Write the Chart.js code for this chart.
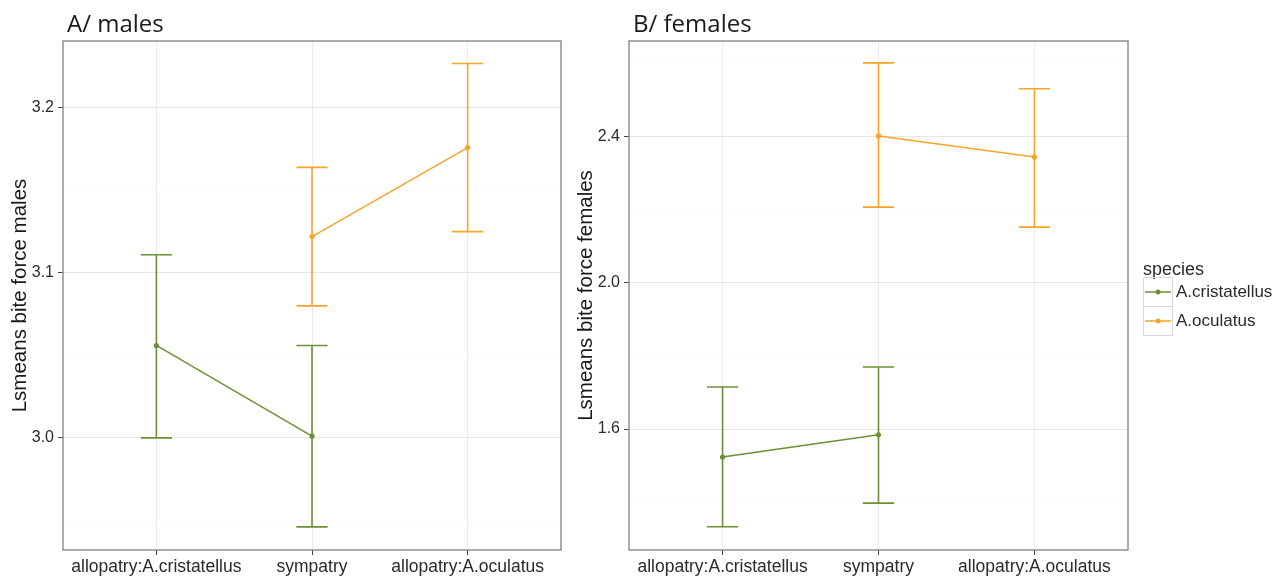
<!DOCTYPE html>
<html><head><meta charset="utf-8">
<script src="https://cdn.jsdelivr.net/npm/chart.js@4.4.1/dist/chart.umd.min.js"></script>
<style>
html,body{margin:0;padding:0;background:#fff;width:1283px;height:577px;overflow:hidden}
canvas{position:absolute;top:0}
#cA{left:0}
#cB{left:566px}
</style></head><body>
<canvas id="cA" width="575" height="577"></canvas>
<canvas id="cB" width="717" height="577"></canvas>
<script>
// ---------- data ----------
const categories = ['allopatry:A.cristatellus', 'sympatry', 'allopatry:A.oculatus'];
const speciesNames = ['A.cristatellus', 'A.oculatus'];
const legendTitle = 'species';

const malesCristatellusMean  = [3.056, 3.001, null];
const malesCristatellusLower = [3.000, 2.946, null];
const malesCristatellusUpper = [3.111, 3.056, null];
const malesOculatusMean      = [null, 3.122, 3.176];
const malesOculatusLower     = [null, 3.080, 3.125];
const malesOculatusUpper     = [null, 3.164, 3.227];

const femalesCristatellusMean  = [1.523, 1.584, null];
const femalesCristatellusLower = [1.332, 1.397, null];
const femalesCristatellusUpper = [1.715, 1.770, null];
const femalesOculatusMean      = [null, 2.403, 2.345];
const femalesOculatusLower     = [null, 2.208, 2.153];
const femalesOculatusUpper     = [null, 2.603, 2.532];

const malesMajorTicks   = [3.0, 3.1, 3.2];
const malesMinorTicks   = [2.95, 3.05, 3.15];
const malesRange        = [2.932, 3.2406];
const femalesMajorTicks = [1.6, 2.0, 2.4];
const femalesMinorTicks = [1.4, 1.8, 2.2, 2.6];
const femalesRange      = [1.2685, 2.663];

// ---------- style ----------
const GREEN = '#6c9035', ORANGE = '#f7a42a';
const FONT = '"Liberation Sans", Arial, sans-serif';
const CAP_HALF = 0.1;
const TEXT = '#2b2b2b';

function pts(arr){ return arr.map((v,i)=> v==null ? null : {x:i, y:v}).filter(p=>p); }
function isIn(list, v){ return list.some(t => Math.abs(t - v) < 1e-6); }

const errorBarPlugin = {
  id: 'errorBars',
  afterDatasetsDraw(chart){
    const {ctx, scales:{x, y}} = chart;
    chart.data.datasets.forEach(ds => {
      ctx.save();
      ctx.strokeStyle = ds.borderColor; ctx.lineWidth = 1.6;
      ds.errLower.forEach((lo, i) => {
        const hi = ds.errUpper[i];
        if (lo == null || hi == null) return;
        const px = x.getPixelForValue(i), pl = x.getPixelForValue(i - CAP_HALF), pr = x.getPixelForValue(i + CAP_HALF);
        const yl = y.getPixelForValue(lo), yh = y.getPixelForValue(hi);
        ctx.beginPath();
        ctx.moveTo(px, yl); ctx.lineTo(px, yh);
        ctx.moveTo(pl, yl); ctx.lineTo(pr, yl);
        ctx.moveTo(pl, yh); ctx.lineTo(pr, yh);
        ctx.stroke();
      });
      ctx.restore();
    });
  }
};

const framePlugin = {
  id: 'frame',
  afterDraw(chart, args, opts){
    const {ctx, chartArea:a} = chart;
    ctx.save();
    ctx.strokeStyle = '#808080'; ctx.lineWidth = 1.3;
    ctx.strokeRect(a.left, a.top, a.right - a.left, a.bottom - a.top);
    ctx.fillStyle = '#1a1a1a';
    ctx.font = '24px "Open Sans", "Noto Sans", sans-serif';
    ctx.textBaseline = 'alphabetic'; ctx.textAlign = 'left';
    ctx.fillText(opts.title, a.left + 4, 32);
    if (opts.legend) {
      const x0 = a.right + 15;
      ctx.font = '18px ' + FONT; ctx.textBaseline = 'middle';
      ctx.fillStyle = TEXT;
      ctx.fillText(legendTitle, x0, 270);
      chart.data.datasets.forEach((ds, i) => {
        const cy = 292 + i * 29;
        ctx.strokeStyle = '#d9d9d9'; ctx.lineWidth = 1;
        ctx.strokeRect(x0 + 0.5, cy - 14.5, 29, 29);
        ctx.strokeStyle = ds.borderColor; ctx.lineWidth = 1.5;
        ctx.beginPath(); ctx.moveTo(x0 + 2, cy); ctx.lineTo(x0 + 28, cy); ctx.stroke();
        ctx.fillStyle = ds.borderColor;
        ctx.beginPath(); ctx.arc(x0 + 15, cy, 2.5, 0, Math.PI*2); ctx.fill();
        ctx.fillStyle = TEXT; ctx.font = '17px ' + FONT;
        ctx.fillText(ds.label, x0 + 33, cy);
      });
    }
    ctx.restore();
  }
};

function dataset(label, color, mean, lo, hi){
  return { label, data: pts(mean), errLower: lo, errUpper: hi,
    borderColor: color, backgroundColor: color, borderWidth: 1.5,
    pointRadius: 2.6, pointBorderWidth: 0, pointBackgroundColor: color, tension: 0 };
}

function makeChart(id, opts){
  return new Chart(document.getElementById(id), {
    type: 'line',
    data: { datasets: [
      dataset(speciesNames[0], GREEN, opts.cMean, opts.cLo, opts.cHi),
      dataset(speciesNames[1], ORANGE, opts.oMean, opts.oLo, opts.oHi)
    ]},
    options: {
      responsive: false, animation: false, devicePixelRatio: 1,
      layout: { padding: { top: 41, right: opts.padRight, bottom: 0, left: 0 } },
      plugins: { legend: { display: false }, tooltip: { enabled: false },
                 frame: { title: opts.title, legend: opts.legend } },
      scales: {
        x: {
          type: 'linear', min: -0.6, max: 2.6,
          afterBuildTicks: s => { s.ticks = categories.map((c, i) => ({ value: i })); },
          afterFit: s => { s.height = 27; },
          ticks: { autoSkip: false, maxRotation: 0, color: TEXT,
                   font: { family: FONT, size: 17.5 }, padding: 2,
                   callback: v => categories[v] },
          grid: { color: '#ebebeb', lineWidth: 1, tickLength: 5, tickColor: '#444' },
          border: { display: false }
        },
        y: {
          min: opts.range[0], max: opts.range[1],
          afterBuildTicks: s => { s.ticks = opts.minor.concat(opts.major).sort((a,b)=>a-b).map(v => ({ value: v })); },
          afterFit: s => { s.width = 63; },
          ticks: { autoSkip: false, color: TEXT, font: { family: FONT, size: 16 }, padding: 4,
                   callback: v => isIn(opts.major, v) ? v.toFixed(1) : '' },
          grid: { lineWidth: 1, tickLength: 5,
                  color: c => isIn(opts.major, c.tick.value) ? '#e6e6e6' : '#fafafa',
                  tickColor: c => isIn(opts.major, c.tick.value) ? '#444' : 'rgba(0,0,0,0)' },
          border: { display: false },
          title: { display: true, text: opts.yTitle, color: '#1a1a1a',
                   font: { family: FONT, size: 20.5 }, padding: { top: 8, bottom: 0 } }
        }
      }
    },
    plugins: [errorBarPlugin, framePlugin]
  });
}

makeChart('cA', { title: 'A/ males', yTitle: 'Lsmeans bite force males', padRight: 14, legend: false,
  range: malesRange, major: malesMajorTicks, minor: malesMinorTicks,
  cMean: malesCristatellusMean, cLo: malesCristatellusLower, cHi: malesCristatellusUpper,
  oMean: malesOculatusMean, oLo: malesOculatusLower, oHi: malesOculatusUpper });

makeChart('cB', { title: 'B/ females', yTitle: 'Lsmeans bite force females', padRight: 155, legend: true,
  range: femalesRange, major: femalesMajorTicks, minor: femalesMinorTicks,
  cMean: femalesCristatellusMean, cLo: femalesCristatellusLower, cHi: femalesCristatellusUpper,
  oMean: femalesOculatusMean, oLo: femalesOculatusLower, oHi: femalesOculatusUpper });
</script>
</body></html>
